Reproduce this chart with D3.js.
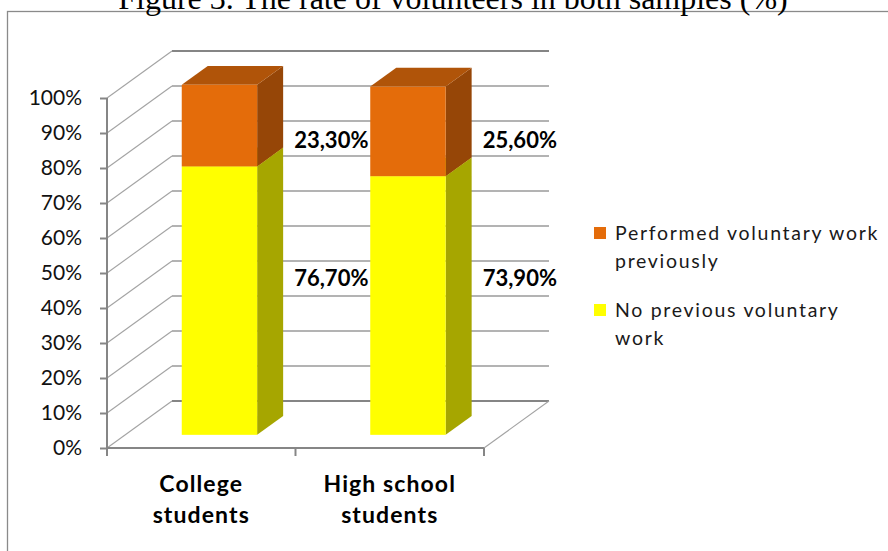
<!DOCTYPE html>
<html>
<head>
<meta charset="utf-8">
<script src="https://cdn.jsdelivr.net/npm/d3@7"></script>
<style>
  html, body { margin: 0; padding: 0; background: #fff; }
  svg { display: block; }
</style>
</head>
<body>
<svg id="chart" width="888" height="551"></svg>
<script>
// Share of respondents who had / had not done voluntary work before (%)
const categories = ["College students", "High school students"];
const categoryLines = [["College", "students"], ["High school", "students"]];
const noPrevious = [76.7, 73.9];
const performedBefore = [23.3, 25.6];
const seriesNames = ["Performed voluntary work previously", "No previous voluntary work"];
const legendLines = [["Performed voluntary work", "previously"], ["No previous voluntary", "work"]];
const yTicks = [0, 10, 20, 30, 40, 50, 60, 70, 80, 90, 100];
const title = "Figure 3. The rate of volunteers in both samples (%)";

const fmt = v => v.toFixed(2).replace(".", ",") + "%";

const svg = d3.select("#chart");

// Outer chart frame (runs off the right and bottom edges)
svg.append("rect")
  .attr("x", 7.5).attr("y", 11.5)
  .attr("width", 900).attr("height", 600)
  .attr("fill", "none").attr("stroke", "#8a8a8a").attr("stroke-width", 1.3);

// Title sits above the frame, partly beyond the top edge
svg.append("text")
  .attr("x", 453).attr("y", 8.5)
  .attr("text-anchor", "middle")
  .attr("font-family", "'Liberation Serif', 'Times New Roman', serif")
  .attr("font-size", 32)
  .attr("fill", "#000")
  .text(title);

// Front plane scales; depth is an oblique offset toward the back wall
const x = d3.scaleBand().domain(categories).range([107, 484]).paddingInner(0).paddingOuter(0);
const y = d3.scaleLinear().domain([0, 100]).range([448, 98]);
const DX = 65, DY = -47;            // full depth of the floor
const depth0 = 0.28, depth1 = 0.68; // bar occupies this slice of the depth
const barFrac = 0.4;

const proj = (px, v, t) => [px + t * DX, y(v) + t * DY];
const line = d3.line();

const g = svg.append("g");

// Back wall gridlines
const [x0, x1] = x.range();
g.selectAll("line.grid").data(yTicks).join("line")
  .attr("class", "grid")
  .attr("x1", x0 + DX).attr("x2", x1 + DX)
  .attr("y1", d => y(d) + DY).attr("y2", d => y(d) + DY)
  .attr("stroke", d => (d === 0 || d === 100) ? "#858585" : "#9a9a9a")
  .attr("stroke-width", d => (d === 0 || d === 100) ? 2 : 1.6);

// Side wall diagonals
g.selectAll("path.wall").data(yTicks).join("path")
  .attr("class", "wall")
  .attr("d", d => line([proj(x0, d, 0), proj(x0, d, 1)]))
  .attr("fill", "none").attr("stroke", "#a3a3a3").attr("stroke-width", 1.1);

// Floor, right edge
g.append("path")
  .attr("d", line([proj(x1, 0, 0), proj(x1, 0, 1)]))
  .attr("fill", "none").attr("stroke", "#a3a3a3").attr("stroke-width", 1.1);

// Value axis on the front edge
const yAxis = d3.axisLeft(y)
  .tickValues(yTicks)
  .tickFormat(d => d + "%")
  .tickSize(7)
  .tickPadding(18);
const ya = svg.append("g").attr("transform", `translate(${x0},0)`).call(yAxis);
ya.select(".domain").attr("stroke", "#868686").attr("stroke-width", 2).attr("d", `M0,${y(100)}V${y(0)}`);
ya.selectAll(".tick line").attr("stroke", "#868686").attr("stroke-width", 2);
ya.selectAll(".tick text")
  .attr("font-family", "Lato, 'Open Sans', sans-serif")
  .attr("font-size", 21)
  .attr("fill", "#111");

// Category axis on the front floor edge
svg.append("line")
  .attr("x1", x0).attr("x2", x1).attr("y1", y(0)).attr("y2", y(0))
  .attr("stroke", "#868686").attr("stroke-width", 2);
const boundaries = categories.map(c => x(c)).concat([x1]);
svg.selectAll("line.ctick").data(boundaries).join("line")
  .attr("class", "ctick")
  .attr("x1", d => d).attr("x2", d => d)
  .attr("y1", y(0)).attr("y2", y(0) + 8)
  .attr("stroke", "#868686").attr("stroke-width", 2);

const catText = svg.selectAll("text.cat").data(categories).join("text")
  .attr("class", "cat")
  .attr("text-anchor", "middle")
  .attr("font-family", "Lato, 'Open Sans', sans-serif")
  .attr("font-weight", "bold")
  .attr("font-size", 23)
  .attr("letter-spacing", 1.1)
  .attr("fill", "#000");
catText.each(function (c, i) {
  const cx = x(c) + x.bandwidth() / 2;
  d3.select(this).selectAll("tspan").data(categoryLines[i]).join("tspan")
    .attr("x", cx)
    .attr("y", (d, k) => 492 + k * 31)
    .text(d => d);
});

// Stacked 3D columns
const colors = {
  no:   { front: "#ffff00", side: "#a6a600", top: "#cccc00" },
  perf: { front: "#e46c0a", side: "#964607", top: "#b05409" }
};
const stacks = categories.map((c, i) => [
  { key: "no",   lo: 0, hi: noPrevious[i], cat: c },
  { key: "perf", lo: noPrevious[i], hi: noPrevious[i] + performedBefore[i], cat: c }
]);

const bars = svg.append("g");
stacks.forEach(stack => {
  stack.forEach(s => {
    const bw = x.bandwidth() * barFrac;
    const left = x(s.cat) + (x.bandwidth() - bw) / 2;
    const right = left + bw;
    const col = colors[s.key];
    // right side face
    bars.append("path")
      .attr("d", line([proj(right, s.lo, depth0), proj(right, s.lo, depth1),
                       proj(right, s.hi, depth1), proj(right, s.hi, depth0)]) + "Z")
      .attr("fill", col.side);
    // top face
    bars.append("path")
      .attr("d", line([proj(left, s.hi, depth0), proj(right, s.hi, depth0),
                       proj(right, s.hi, depth1), proj(left, s.hi, depth1)]) + "Z")
      .attr("fill", col.top);
    // front face
    const p0 = proj(left, s.hi, depth0), p1 = proj(right, s.lo, depth0);
    bars.append("rect")
      .attr("x", p0[0]).attr("y", p0[1])
      .attr("width", p1[0] - p0[0]).attr("height", p1[1] - p0[1])
      .attr("fill", col.front);
  });
});

// Data labels beside each column; rows sit at fixed heights on the value scale
const labelRow = { no: 48.5, perf: 88 };
const labels = [];
categories.forEach((c, i) => {
  labels.push({ cat: c, v: noPrevious[i], row: labelRow.no });
  labels.push({ cat: c, v: performedBefore[i], row: labelRow.perf });
});
svg.selectAll("text.dl").data(labels).join("text")
  .attr("class", "dl")
  .attr("x", d => x(d.cat) + x.bandwidth() * 1.19)
  .attr("y", d => y(d.row))
  .attr("dy", "0.36em")
  .attr("text-anchor", "middle")
  .attr("font-family", "Lato, 'Open Sans', sans-serif")
  .attr("font-weight", "bold")
  .attr("font-size", 22)
  .attr("fill", "#000")
  .text(d => fmt(d.v));

// Legend
const legColors = [colors.perf.front, colors.no.front];
const lg = svg.append("g");
seriesNames.forEach((name, i) => {
  const top = i === 0 ? 227 : 304;
  lg.append("rect").attr("x", 594).attr("y", top).attr("width", 12).attr("height", 12)
    .attr("fill", legColors[i]);
  const t = lg.append("text")
    .attr("font-family", "Lato, 'Open Sans', sans-serif")
    .attr("font-size", 19.5)
    .attr("letter-spacing", 1.7)
    .attr("fill", "#1a1a1a");
  legendLines[i].forEach((ln, k) => {
    t.append("tspan").attr("x", 615).attr("y", top + 12.5 + k * 28.5).text(ln);
  });
});
</script>
</body>
</html>
